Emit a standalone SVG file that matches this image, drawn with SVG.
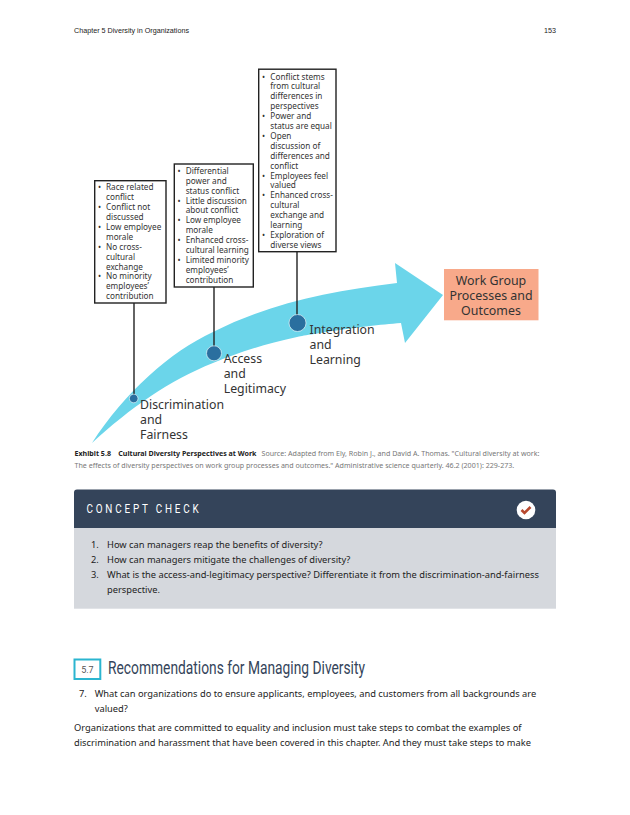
<svg xmlns="http://www.w3.org/2000/svg" width="630" height="815" viewBox="0 0 630 815">
<style>
text{font-family:"Noto Sans","Open Sans",sans-serif;fill:#222}
.b{font-size:8.2px;fill:#333}
.box{fill:#fff;stroke:#222;stroke-width:1.4}
.lab{font-size:12.3px;fill:#333}
.wg{font-size:12.4px;fill:#333;text-anchor:middle}
.hd{font-family:"Liberation Sans",Arial,sans-serif;font-size:7.2px;fill:#222}
.c{font-size:7.1px;fill:#777}
.t{font-size:9.3px;fill:#222}
.con{stroke:#222;stroke-width:1.4;fill:none}
.dot{fill:#2a6f9f;stroke:#fff;stroke-width:.6}
</style>
<rect width="630" height="815" fill="#fff"/>
<g id="page-header">
<text class="hd" x="74" y="33">Chapter 5 Diversity in Organizations</text>
<text class="hd" x="556" y="33" text-anchor="end">153</text>
</g>
<g id="arrow"><path d="M92 443C125 392 170 352 213 332C268 304 330 291 397 283L395 263L443 295L405 343L401 323C360 326 300 336 297 337C260 345 235 354 213 363C170 380 130 408 92 443Z" fill="#6bd5ea"/></g>
<g id="connectors">
<line class="con" x1="134" y1="303" x2="134" y2="398"/>
<line class="con" x1="214" y1="287" x2="214" y2="353"/>
<line class="con" x1="297" y1="252" x2="297" y2="322"/>
</g>
<g id="box-discrimination">
<rect class="box" x="94.7" y="180.7" width="71.3" height="122.3"/>
<text class="b"><tspan x="98" y="190.3">•</tspan><tspan x="106" y="190.3">Race related</tspan><tspan x="106" y="200.2">conflict</tspan><tspan x="98" y="210.1">•</tspan><tspan x="106" y="210.1">Conflict not</tspan><tspan x="106" y="220">discussed</tspan><tspan x="98" y="229.9">•</tspan><tspan x="106" y="229.9">Low employee</tspan><tspan x="106" y="239.8">morale</tspan><tspan x="98" y="249.7">•</tspan><tspan x="106" y="249.7">No cross-</tspan><tspan x="106" y="259.6">cultural</tspan><tspan x="106" y="269.5">exchange</tspan><tspan x="98" y="279.4">•</tspan><tspan x="106" y="279.4">No minority</tspan><tspan x="106" y="289.3">employees’</tspan><tspan x="106" y="299.2">contribution</tspan></text>
</g>
<g id="box-access">
<rect class="box" x="174.3" y="164" width="79" height="123"/>
<text class="b"><tspan x="177.5" y="173.8">•</tspan><tspan x="185.7" y="173.8">Differential</tspan><tspan x="185.7" y="183.7">power and</tspan><tspan x="185.7" y="193.6">status conflict</tspan><tspan x="177.5" y="203.5">•</tspan><tspan x="185.7" y="203.5">Little discussion</tspan><tspan x="185.7" y="213.4">about conflict</tspan><tspan x="177.5" y="223.3">•</tspan><tspan x="185.7" y="223.3">Low employee</tspan><tspan x="185.7" y="233.2">morale</tspan><tspan x="177.5" y="243.1">•</tspan><tspan x="185.7" y="243.1">Enhanced cross-</tspan><tspan x="185.7" y="253">cultural learning</tspan><tspan x="177.5" y="262.9">•</tspan><tspan x="185.7" y="262.9">Limited minority</tspan><tspan x="185.7" y="272.8">employees’</tspan><tspan x="185.7" y="282.7">contribution</tspan></text>
</g>
<g id="box-integration">
<rect class="box" x="258.7" y="69.2" width="77.3" height="182.5"/>
<text class="b"><tspan x="262" y="79.5">•</tspan><tspan x="270.3" y="79.5">Conflict stems</tspan><tspan x="270.3" y="89.4">from cultural</tspan><tspan x="270.3" y="99.3">differences in</tspan><tspan x="270.3" y="109.2">perspectives</tspan><tspan x="262" y="119.1">•</tspan><tspan x="270.3" y="119.1">Power and</tspan><tspan x="270.3" y="129">status are equal</tspan><tspan x="262" y="138.9">•</tspan><tspan x="270.3" y="138.9">Open</tspan><tspan x="270.3" y="148.8">discussion of</tspan><tspan x="270.3" y="158.7">differences and</tspan><tspan x="270.3" y="168.6">conflict</tspan><tspan x="262" y="178.5">•</tspan><tspan x="270.3" y="178.5">Employees feel</tspan><tspan x="270.3" y="188.4">valued</tspan><tspan x="262" y="198.3">•</tspan><tspan x="270.3" y="198.3">Enhanced cross-</tspan><tspan x="270.3" y="208.2">cultural</tspan><tspan x="270.3" y="218.1">exchange and</tspan><tspan x="270.3" y="228">learning</tspan><tspan x="262" y="237.9">•</tspan><tspan x="270.3" y="237.9">Exploration of</tspan><tspan x="270.3" y="247.8">diverse views</tspan></text>
</g>
<g id="node-discrimination">
<circle class="dot" cx="133.7" cy="398.5" r="4.3"/>
<text class="lab"><tspan x="140" y="409">Discrimination</tspan><tspan x="140" y="424">and</tspan><tspan x="140" y="439">Fairness</tspan></text>
</g>
<g id="node-access">
<circle class="dot" cx="214" cy="353.3" r="7.5"/>
<text class="lab"><tspan x="223.7" y="363.3">Access</tspan><tspan x="223.7" y="378.3">and</tspan><tspan x="223.7" y="393.3">Legitimacy</tspan></text>
</g>
<g id="node-integration">
<circle class="dot" cx="297.5" cy="323" r="8.5"/>
<text class="lab"><tspan x="309.5" y="333.5">Integration</tspan><tspan x="309.5" y="348.5">and</tspan><tspan x="309.5" y="363.5">Learning</tspan></text>
</g>
<g id="node-outcomes">
<rect x="444" y="269" width="94.5" height="51.3" fill="#f8a98a"/>
<text class="wg"><tspan x="491" y="284.7">Work Group</tspan><tspan x="491" y="299.7">Processes and</tspan><tspan x="491" y="314.5">Outcomes</tspan></text>
</g>
<g id="caption">
<text class="c" x="74.5" y="456"><tspan font-weight="700" fill="#222" style="fill:#222">Exhibit 5.8</tspan><tspan x="118.3" font-weight="700" style="fill:#222">Cultural Diversity Perspectives at Work</tspan><tspan x="261.5">Source: Adapted from Ely, Robin J., and David A. Thomas. "Cultural diversity at work:</tspan></text>
<text class="c" x="74.5" y="467.5">The effects of diversity perspectives on work group processes and outcomes." Administrative science quarterly. 46.2 (2001): 229-273.</text>
</g>
<g id="concept-check">
<rect x="74" y="528" width="482" height="80.7" fill="#d5d8dd"/>
<path d="M74 528V492.5a3 3 0 0 1 3-3H553a3 3 0 0 1 3 3V528Z" fill="#34445a"/>
<text x="86.5" y="513" font-size="12px" letter-spacing="3.4" textLength="115" lengthAdjust="spacingAndGlyphs" style="font-family:Roboto,sans-serif;fill:#fff">CONCEPT CHECK</text>
<circle cx="526" cy="510" r="9.3" fill="#fff"/>
<path d="M521.5 510l3 3l6-6" fill="none" stroke="#b8492f" stroke-width="2.6"/>
<text class="t"><tspan x="91" y="548">1.</tspan><tspan x="107" y="548">How can managers reap the benefits of diversity?</tspan><tspan x="91" y="563">2.</tspan><tspan x="107" y="563">How can managers mitigate the challenges of diversity?</tspan><tspan x="91" y="578">3.</tspan><tspan x="107" y="578">What is the access-and-legitimacy perspective? Differentiate it from the discrimination-and-fairness</tspan><tspan x="107" y="592.7">perspective.</tspan></text>
</g>
<g id="section-heading">
<rect x="74.5" y="659.5" width="25.8" height="19.5" fill="#fff" stroke="#2bb5d0" stroke-width="2"/>
<text x="87.4" y="672.5" font-size="9px" text-anchor="middle" style="fill:#555;font-family:Roboto,sans-serif">5.7</text>
<text x="108" y="673.5" font-size="17.5px" textLength="257" lengthAdjust="spacingAndGlyphs" style="fill:#34445a;font-family:Roboto,sans-serif">Recommendations for Managing Diversity</text>
</g>
<g id="body-text">
<text class="t"><tspan x="79" y="697">7.</tspan><tspan x="94.7" y="697">What can organizations do to ensure applicants, employees, and customers from all backgrounds are</tspan><tspan x="94.7" y="711.7">valued?</tspan><tspan x="74" y="731">Organizations that are committed to equality and inclusion must take steps to combat the examples of</tspan><tspan x="74" y="746">discrimination and harassment that have been covered in this chapter. And they must take steps to make</tspan></text>
</g>
</svg>
